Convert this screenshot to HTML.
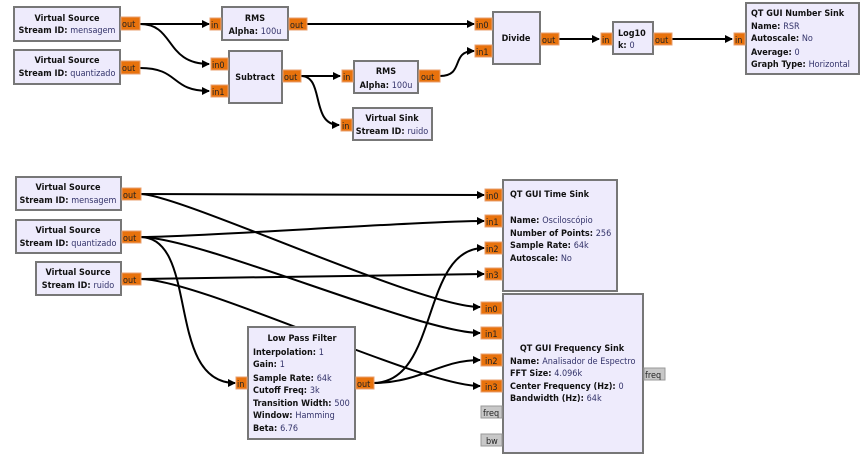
<!DOCTYPE html>
<html><head><meta charset="utf-8"><style>
body{margin:0;background:#fff;width:865px;height:463px;overflow:hidden}
svg{font-family:"DejaVu Sans Condensed","DejaVu Sans","Liberation Sans",sans-serif}
.b{fill:#eeebfc;stroke:#777;stroke-width:2}
.p{fill:#e8720c;stroke:#e8a070;stroke-width:1}
.g{fill:#c8c8c8;stroke:#999;stroke-width:1}
.pt{font-size:9px;fill:#222}
.t{font-size:9px;font-weight:bold;fill:#111}
.v{font-weight:normal;fill:#33336a}
.w{fill:none;stroke:#000;stroke-width:2}
</style></head><body>
<svg width="865" height="463" viewBox="0 0 865 463">
<defs><marker id="a" markerWidth="8" markerHeight="8" refX="7" refY="4" orient="auto" markerUnits="userSpaceOnUse"><path d="M0,0 L8,4 L0,8z" fill="#000"/></marker></defs>

<path class="w" marker-end="url(#a)" d="M140,24 L209,24"/>
<path class="w" marker-end="url(#a)" d="M140,24 C175,24 165,64 209,64"/>
<path class="w" marker-end="url(#a)" d="M140,68 C180,68 170,91 209,91"/>
<path class="w" marker-end="url(#a)" d="M307,24 L440,24 C460,24 455,24 474,24"/>
<path class="w" marker-end="url(#a)" d="M301,76 L340,76"/>
<path class="w" marker-end="url(#a)" d="M301,76 C325,76 310,125 339,125"/>
<path class="w" marker-end="url(#a)" d="M440,76 C465,76 450,51 474,51"/>
<path class="w" marker-end="url(#a)" d="M558,39 L599,39"/>
<path class="w" marker-end="url(#a)" d="M672,39 L732,39"/>
<path class="w" marker-end="url(#a)" d="M140,194 L484,195"/>
<path class="w" marker-end="url(#a)" d="M140,194 C180,194 420,307 480,307"/>
<path class="w" marker-end="url(#a)" d="M140,237 C200,237 420,221 484,221"/>
<path class="w" marker-end="url(#a)" d="M140,237 C200,237 420,333 480,333"/>
<path class="w" marker-end="url(#a)" d="M140,237 C200,237 165,383 235,383"/>
<path class="w" marker-end="url(#a)" d="M140,279 C200,279 420,274 484,274"/>
<path class="w" marker-end="url(#a)" d="M140,279 C200,279 420,386 480,386"/>
<path class="w" marker-end="url(#a)" d="M373,383 C440,383 420,248 484,248"/>
<path class="w" marker-end="url(#a)" d="M373,383 C420,383 440,360 480,360"/>

<rect class="b" x="14" y="7" width="106" height="34"/><text class="t" x="67" y="21" text-anchor="middle">Virtual Source</text><text class="t" x="67" y="33" text-anchor="middle">Stream ID: <tspan class="v">mensagem</tspan></text>
<rect class="p" x="121" y="17" width="19" height="13"/><text class="pt" x="122" y="27">out</text>
<rect class="b" x="14" y="50" width="106" height="34"/><text class="t" x="67" y="63" text-anchor="middle">Virtual Source</text><text class="t" x="67" y="76" text-anchor="middle">Stream ID: <tspan class="v">quantizado</tspan></text>
<rect class="p" x="121" y="61" width="19" height="13"/><text class="pt" x="122" y="71">out</text>

<rect class="b" x="222" y="7" width="66" height="33"/><text class="t" x="255" y="21" text-anchor="middle">RMS</text><text class="t" x="255" y="34" text-anchor="middle">Alpha: <tspan class="v">100u</tspan></text>
<rect class="p" x="210" y="18" width="11" height="12"/><text class="pt" x="211" y="28">in</text>
<rect class="p" x="289" y="18" width="18" height="12"/><text class="pt" x="290" y="28">out</text>

<rect class="b" x="229" y="51" width="53" height="52"/><text class="t" x="255" y="80" text-anchor="middle">Subtract</text>
<rect class="p" x="211" y="58" width="17" height="12"/><text class="pt" x="212" y="68">in0</text>
<rect class="p" x="211" y="85" width="17" height="12"/><text class="pt" x="212" y="95">in1</text>
<rect class="p" x="283" y="70" width="18" height="12"/><text class="pt" x="284" y="80">out</text>

<rect class="b" x="354" y="61" width="64" height="32"/><text class="t" x="386" y="74" text-anchor="middle">RMS</text><text class="t" x="386" y="88" text-anchor="middle">Alpha: <tspan class="v">100u</tspan></text>
<rect class="p" x="342" y="70" width="11" height="12"/><text class="pt" x="343" y="80">in</text>
<rect class="p" x="419" y="70" width="21" height="12"/><text class="pt" x="421" y="80">out</text>

<rect class="b" x="353" y="108" width="79" height="32"/><text class="t" x="392" y="121" text-anchor="middle">Virtual Sink</text><text class="t" x="392" y="134" text-anchor="middle">Stream ID: <tspan class="v">ruido</tspan></text>
<rect class="p" x="341" y="119" width="11" height="12"/><text class="pt" x="342" y="129">in</text>

<rect class="b" x="493" y="12" width="47" height="52"/><text class="t" x="516" y="41" text-anchor="middle">Divide</text>
<rect class="p" x="475" y="18" width="17" height="12"/><text class="pt" x="476" y="28">in0</text>
<rect class="p" x="475" y="45" width="17" height="12"/><text class="pt" x="476" y="55">in1</text>
<rect class="p" x="541" y="33" width="18" height="12"/><text class="pt" x="542" y="43">out</text>

<rect class="b" x="613" y="22" width="40" height="32"/><text class="t" x="618" y="36">Log10</text><text class="t" x="618" y="48">k: <tspan class="v">0</tspan></text>
<rect class="p" x="601" y="33" width="11" height="12"/><text class="pt" x="602" y="43">in</text>
<rect class="p" x="654" y="33" width="18" height="12"/><text class="pt" x="655" y="43">out</text>

<rect class="b" x="746" y="3" width="113" height="71"/><text class="t" x="751" y="16">QT GUI Number Sink</text>
<text class="t" x="751" y="29">Name: <tspan class="v">RSR</tspan></text><text class="t" x="751" y="41">Autoscale: <tspan class="v">No</tspan></text><text class="t" x="751" y="55">Average: <tspan class="v">0</tspan></text><text class="t" x="751" y="67">Graph Type: <tspan class="v">Horizontal</tspan></text>
<rect class="p" x="734" y="33" width="11" height="12"/><text class="pt" x="735" y="43">in</text>

<rect class="b" x="16" y="177" width="105" height="33"/><text class="t" x="68" y="190" text-anchor="middle">Virtual Source</text><text class="t" x="68" y="203" text-anchor="middle">Stream ID: <tspan class="v">mensagem</tspan></text>
<rect class="p" x="122" y="188" width="19" height="12"/><text class="pt" x="123" y="198">out</text>
<rect class="b" x="16" y="220" width="105" height="33"/><text class="t" x="68" y="233" text-anchor="middle">Virtual Source</text><text class="t" x="68" y="246" text-anchor="middle">Stream ID: <tspan class="v">quantizado</tspan></text>
<rect class="p" x="122" y="231" width="19" height="12"/><text class="pt" x="123" y="241">out</text>
<rect class="b" x="36" y="262" width="85" height="33"/><text class="t" x="78" y="275" text-anchor="middle">Virtual Source</text><text class="t" x="78" y="288" text-anchor="middle">Stream ID: <tspan class="v">ruido</tspan></text>
<rect class="p" x="122" y="273" width="19" height="12"/><text class="pt" x="123" y="283">out</text>

<rect class="b" x="503" y="180" width="114" height="111"/><text class="t" x="510" y="197">QT GUI Time Sink</text>
<text class="t" x="510" y="223">Name: <tspan class="v">Osciloscópio</tspan></text><text class="t" x="510" y="236">Number of Points: <tspan class="v">256</tspan></text><text class="t" x="510" y="248">Sample Rate: <tspan class="v">64k</tspan></text><text class="t" x="510" y="261">Autoscale: <tspan class="v">No</tspan></text>
<rect class="p" x="485" y="189" width="17" height="12"/><text class="pt" x="486" y="199">in0</text>
<rect class="p" x="485" y="215" width="17" height="12"/><text class="pt" x="486" y="225">in1</text>
<rect class="p" x="485" y="242" width="17" height="12"/><text class="pt" x="486" y="252">in2</text>
<rect class="p" x="485" y="268" width="17" height="12"/><text class="pt" x="486" y="278">in3</text>

<rect class="b" x="503" y="294" width="140" height="159"/><text class="t" x="572" y="351" text-anchor="middle">QT GUI Frequency Sink</text>
<text class="t" x="510" y="364">Name: <tspan class="v">Analisador de Espectro</tspan></text><text class="t" x="510" y="376">FFT Size: <tspan class="v">4.096k</tspan></text><text class="t" x="510" y="389">Center Frequency (Hz): <tspan class="v">0</tspan></text><text class="t" x="510" y="401">Bandwidth (Hz): <tspan class="v">64k</tspan></text>
<rect class="p" x="481" y="302" width="21" height="12"/><text class="pt" x="485" y="312">in0</text>
<rect class="p" x="481" y="327" width="21" height="12"/><text class="pt" x="485" y="337">in1</text>
<rect class="p" x="481" y="354" width="21" height="12"/><text class="pt" x="485" y="364">in2</text>
<rect class="p" x="481" y="380" width="21" height="12"/><text class="pt" x="485" y="390">in3</text>
<rect class="g" x="481" y="406" width="21" height="12"/><text class="pt" x="483" y="416">freq</text>
<rect class="g" x="481" y="434" width="21" height="12"/><text class="pt" x="486" y="444">bw</text>
<rect class="g" x="644" y="368" width="21" height="12"/><text class="pt" x="645" y="378">freq</text>

<rect class="b" x="248" y="327" width="107" height="112"/><text class="t" x="302" y="341" text-anchor="middle">Low Pass Filter</text>
<text class="t" x="253" y="355">Interpolation: <tspan class="v">1</tspan></text><text class="t" x="253" y="367">Gain: <tspan class="v">1</tspan></text><text class="t" x="253" y="381">Sample Rate: <tspan class="v">64k</tspan></text><text class="t" x="253" y="393">Cutoff Freq: <tspan class="v">3k</tspan></text><text class="t" x="253" y="406">Transition Width: <tspan class="v">500</tspan></text><text class="t" x="253" y="418">Window: <tspan class="v">Hamming</tspan></text><text class="t" x="253" y="431">Beta: <tspan class="v">6.76</tspan></text>
<rect class="p" x="236" y="377" width="11" height="12"/><text class="pt" x="237" y="387">in</text>
<rect class="p" x="356" y="377" width="18" height="12"/><text class="pt" x="357" y="387">out</text>
</svg>
</body></html>
